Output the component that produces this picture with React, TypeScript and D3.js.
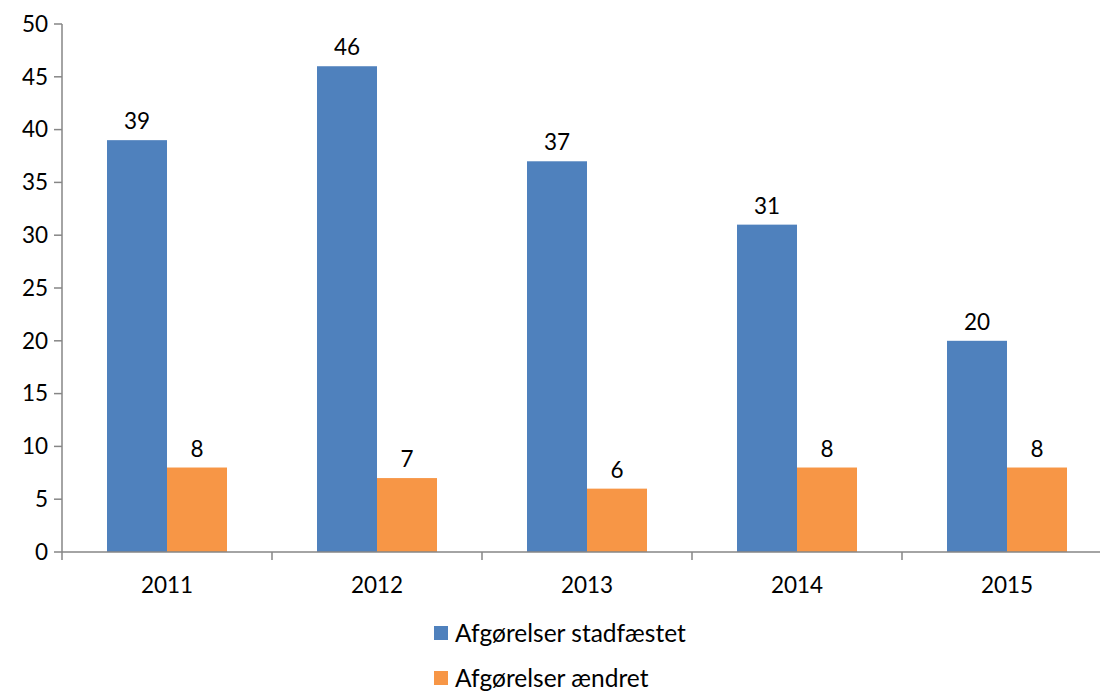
import React from "react";
import * as d3 from "d3";

const years = ["2011", "2012", "2013", "2014", "2015"];
const stadfaestet = [39, 46, 37, 31, 20];
const aendret = [8, 7, 6, 8, 8];
const seriesNames = ["Afgørelser stadfæstet", "Afgørelser ændret"];
const colors = ["#4F81BD", "#F79646"];
const yTicks = [0, 5, 10, 15, 20, 25, 30, 35, 40, 45, 50];

export default function App() {
  const W = 1100, H = 691;
  const left = 62, right = 1112, top = 24, bottom = 552;
  const x = d3.scaleBand<string>().domain(years).range([left, right]).paddingInner(0).paddingOuter(0);
  const y = d3.scaleLinear().domain([0, 50]).range([bottom, top]);
  const groupW = 120;
  const barW = 60;
  const font = "Lato, 'Open Sans', sans-serif";
  const axisColor = "#868686";
  const series = [stadfaestet, aendret];
  const fs = 22.5;

  return (
    <svg width={W} height={H} style={{ position: "absolute", left: 0, top: 0, background: "#fff" }} fontFamily={font}>
      <line x1={left} x2={left} y1={top} y2={bottom} stroke={axisColor} strokeWidth={1.5} />
      {yTicks.map((t) => (
        <g key={t}>
          <line x1={left - 8} x2={left} y1={y(t)} y2={y(t)} stroke={axisColor} strokeWidth={1.5} />
          <text x={left - 14} y={y(t)} dy="0.35em" textAnchor="end" fontSize={fs} fill="#000">{t}</text>
        </g>
      ))}
      {years.map((yr, i) => {
        const cx = (x(yr) as number) + x.bandwidth() / 2;
        return (
          <g key={yr}>
            {series.map((s, j) => {
              const bx = cx - groupW / 2 + j * barW;
              return (
                <g key={j}>
                  <rect x={bx} y={y(s[i])} width={barW} height={bottom - y(s[i])} fill={colors[j]} />
                  <text x={bx + barW / 2} y={y(s[i]) - 11} textAnchor="middle" fontSize={fs} fill="#000">{s[i]}</text>
                </g>
              );
            })}
            <text x={cx} y={bottom + 41} textAnchor="middle" fontSize={fs} fill="#000">{yr}</text>
          </g>
        );
      })}
      <line x1={left} x2={right} y1={bottom} y2={bottom} stroke={axisColor} strokeWidth={1.5} />
      {years.concat(["end"]).map((yr, i) => {
        const tx = left + i * x.bandwidth();
        return <line key={i} x1={tx} x2={tx} y1={bottom} y2={bottom + 8} stroke={axisColor} strokeWidth={1.5} />;
      })}
      {seriesNames.map((n, j) => (
        <g key={n}>
          <rect x={434} y={626 + j * 45} width={14} height={14} fill={colors[j]} />
          <text x={455} y={633 + j * 45} dy="0.35em" fontSize={24.5} fill="#000">{n}</text>
        </g>
      ))}
    </svg>
  );
}
